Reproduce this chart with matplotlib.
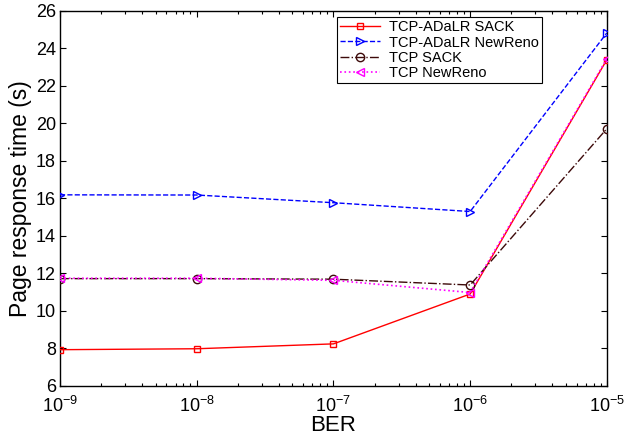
import matplotlib
matplotlib.use("Agg")
import matplotlib.pyplot as plt
from matplotlib.ticker import LogLocator, NullFormatter, FixedLocator

plt.rcParams['font.family'] = ['Liberation Sans', 'DejaVu Sans']
plt.rcParams['mathtext.fontset'] = 'custom'
plt.rcParams['mathtext.rm'] = 'Liberation Sans'
plt.rcParams['mathtext.it'] = 'Liberation Sans'

ber = [1e-9, 1e-8, 1e-7, 1e-6, 1e-5]
adalr_sack = [7.93, 7.98, 8.24, 10.9, 23.4]
adalr_newreno = [16.19, 16.18, 15.77, 15.3, 24.83]
tcp_sack = [11.72, 11.72, 11.69, 11.38, 19.72]
tcp_newreno = [11.74, 11.74, 11.63, 10.98, 23.45]

fig = plt.figure(figsize=(6.25, 4.37), dpi=100)
ax = fig.add_axes([0.096, 0.117, 0.875, 0.858])

ax.plot(ber, adalr_sack, '-', color='#ff0000', marker='s', mfc='none', mec='#ff0000',
        ms=5, lw=1.0, label='TCP-ADaLR SACK', zorder=3)
ax.plot(ber, adalr_newreno, '--', color='#0000ff', marker='>', mfc='none', mec='#0000ff',
        ms=6, lw=1.0, label='TCP-ADaLR NewReno', zorder=3)
ax.plot(ber, tcp_sack, '-.', color='#3d0a0a', marker='o', mfc='none', mec='#3d0a0a',
        ms=6, lw=1.0, label='TCP SACK', zorder=3)
ax.plot(ber, tcp_newreno, ':', color='#ff00ff', marker='<', mfc='none', mec='#ff00ff',
        ms=6, lw=1.2, label='TCP NewReno', zorder=4)

ax.set_xscale('log')
ax.set_xlim(1e-9, 1e-5)
ax.set_ylim(6, 26)
ax.set_yticks(range(6, 27, 2))
ax.xaxis.set_major_locator(FixedLocator(ber))
ax.set_xticklabels([r'$10^{-9}$', r'$10^{-8}$', r'$10^{-7}$', r'$10^{-6}$', r'$10^{-5}$'])
ax.xaxis.set_minor_locator(LogLocator(base=10, subs=range(2, 10), numticks=20))
ax.xaxis.set_minor_formatter(NullFormatter())

ax.tick_params(which='both', direction='in', top=True, right=True, labelsize=13, width=0.8)
ax.tick_params(which='major', length=4.5)
ax.tick_params(which='minor', length=2.5)
ax.tick_params(axis='x', pad=7)
ax.tick_params(axis='y', pad=3)
for s in ax.spines.values():
    s.set_linewidth(1.0)

ax.set_xlabel('BER', fontsize=16, labelpad=-0.5)
ax.set_ylabel('Page response time (s)', fontsize=16.5, labelpad=3)

leg = ax.legend(loc='upper left', bbox_to_anchor=(0.498, 0.995), fontsize=10.5,
                frameon=True, fancybox=False, edgecolor='black', framealpha=1,
                borderpad=0.2, labelspacing=0.1, handlelength=2.8, handletextpad=0.6,
                borderaxespad=0.3)
leg.get_frame().set_linewidth(0.8)

fig.savefig('out.png', dpi=100)
